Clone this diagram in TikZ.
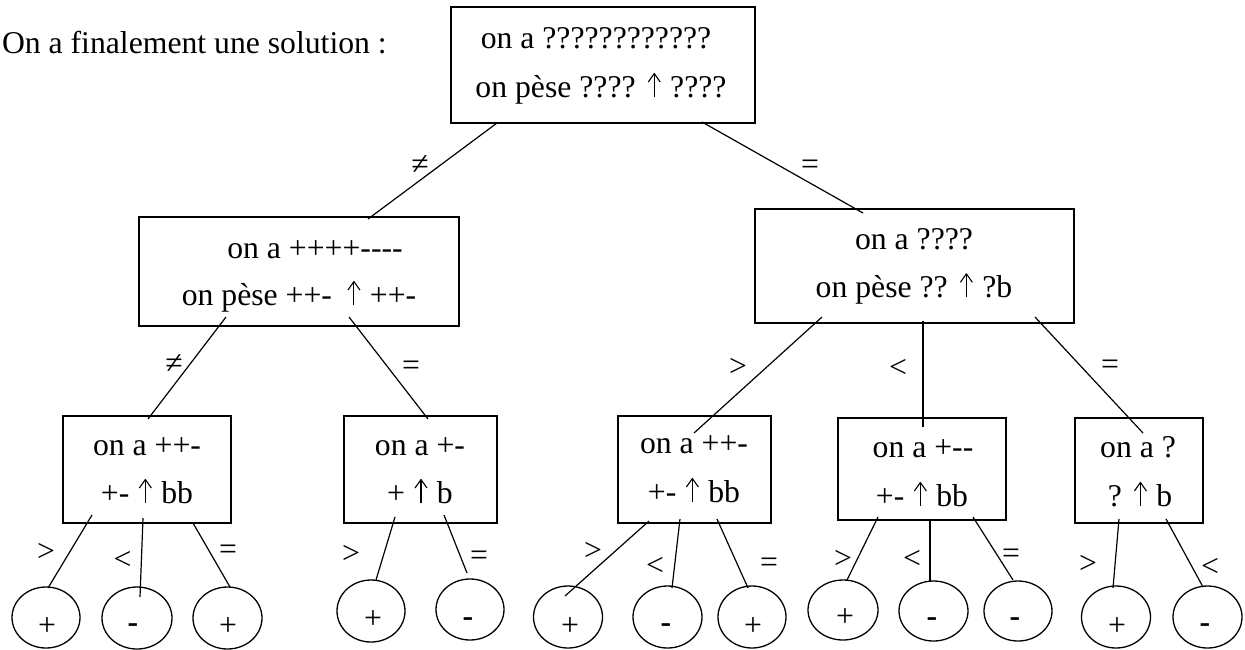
\documentclass[tikz,border=0pt]{standalone}
\usepackage{fontspec}
\setmainfont{Liberation Serif}
\usetikzlibrary{shapes.geometric}
\newcommand\uparr{\hspace{1.5pt}\tikz[baseline=0pt,x=1pt,y=1pt,line width=1.1pt,line join=round]{\draw (0,0)--(0,23.5); \draw (-6,15)--(0,23.5)--(6,15);}\hspace{1.5pt}}
\newcommand\hy{{-}}
\begin{document}
\begin{tikzpicture}[x=1pt,y=-1pt,
  every node/.style={font=\fontsize{31.7}{38}\selectfont, inner sep=0pt, outer sep=0pt},
  box/.style={draw, rectangle, line width=1.4pt},
  leaf/.style={draw, ellipse, line width=1.3pt},
  txt/.style={anchor=base},
  rel/.style={},
  sign/.style={},
  edge/.style={line width=1.2pt}
]
\useasboundingbox (0,0) rectangle (1245,649);

% title
\node[anchor=base west] (title) at (2,53) {On a finalement une solution :};

% boxes
\node[box, minimum width=304, minimum height=116] (T) at (603,65) {};
\node[txt] (T1) at (596,48) {on a ????????????};
\node[txt] (T2) at (601,97) {on pèse ???? \uparr{} ????};

\node[box, minimum width=320, minimum height=109] (L) at (299,271.5) {};
\node[txt] (L1) at (315,258) {on a ++++\hy\hy\hy\hy};
\node[txt] (L2) at (299,305) {on pèse ++\hy\hspace{6pt} \uparr{} ++\hy};

\node[box, minimum width=319, minimum height=114] (R) at (914.5,266) {};
\node[txt] (R1) at (914,249.3) {on a ????};
\node[txt] (R2) at (914,297.3) {on pèse ?? \uparr{} ?b};

\node[box, minimum width=168, minimum height=107] (B1) at (147,469.5) {};
\node[txt] (B11) at (147,455) {on a ++\hy};
\node[txt] (B12) at (147,503) {+\hy{} \uparr{} bb};

\node[box, minimum width=153, minimum height=107] (B2) at (420.5,469.5) {};
\node[txt] (B21) at (420,455) {on a +\hy};
\node[txt] (B22) at (420,503) {+ \uparr{} b};

\node[box, minimum width=153, minimum height=107] (B3) at (694.5,469.5) {};
\node[txt] (B31) at (694,453) {on a ++\hy};
\node[txt] (B32) at (694,502) {+\hy{} \uparr{} bb};

\node[box, minimum width=168, minimum height=102] (B4) at (922,469) {};
\node[txt] (B41) at (923,457) {on a +\hy\hy};
\node[txt] (B42) at (922,506) {+\hy{} \uparr{} bb};

\node[box, minimum width=128, minimum height=105] (B5) at (1139,470.5) {};
\node[txt] (B51) at (1138,457) {on a ?};
\node[txt] (B52) at (1140,506) {? \uparr{} b};

% leaves
\node[leaf, minimum width=68, minimum height=61] (c11) at (46,617.5) {};
\node[leaf, minimum width=70, minimum height=62] (c12) at (137,618) {};
\node[leaf, minimum width=69, minimum height=62] (c13) at (227.5,618) {};
\node[leaf, minimum width=68, minimum height=62] (c21) at (371,611) {};
\node[leaf, minimum width=68, minimum height=61] (c22) at (470,609.5) {};
\node[leaf, minimum width=69, minimum height=62] (c31) at (568,617) {};
\node[leaf, minimum width=69, minimum height=62] (c32) at (667.5,617) {};
\node[leaf, minimum width=68, minimum height=62] (c33) at (752,617) {};
\node[leaf, minimum width=70, minimum height=60] (c41) at (843,610) {};
\node[leaf, minimum width=69, minimum height=60] (c42) at (933.5,611) {};
\node[leaf, minimum width=68, minimum height=60] (c43) at (1018,611) {};
\node[leaf, minimum width=69, minimum height=62] (c51) at (1116,617) {};
\node[leaf, minimum width=69, minimum height=62] (c52) at (1207.5,617) {};

\node[sign] (s11) at (47,627) {+};
\node[sign] (s12) at (133,628) {\textbf{-}};
\node[sign] (s13) at (228,627) {+};
\node[sign] (s21) at (373,620) {+};
\node[sign] (s22) at (468,622) {\textbf{-}};
\node[sign] (s31) at (570,627) {+};
\node[sign] (s32) at (666,628) {\textbf{-}};
\node[sign] (s33) at (753,627) {+};
\node[sign] (s41) at (845,618) {+};
\node[sign] (s42) at (932,622) {\textbf{-}};
\node[sign] (s43) at (1015,622) {\textbf{-}};
\node[sign] (s51) at (1117,627) {+};
\node[sign] (s52) at (1205,628) {\textbf{-}};

% connectors
\draw[edge] ([shift={(-106,58)}]T.center) -- ([shift={(69,-52.5)}]L.center);
\draw[edge] ([shift={(99,57)}]T.center) -- ([shift={(-51.5,-53)}]R.center);
\draw[edge] ([shift={(-73,45.5)}]L.center) -- ([shift={(1,-50.5)}]B1.center);
\draw[edge] ([shift={(50,45.5)}]L.center) -- ([shift={(7.5,-50.5)}]B2.center);
\draw[edge] ([shift={(-92.5,51)}]R.center) -- ([shift={(-0.5,-36.5)}]B3.center);
\draw[edge] ([shift={(8.5,55)}]R.center) -- ([shift={(1,-42)}]B4.center);
\draw[edge] ([shift={(120.5,51)}]R.center) -- ([shift={(4,-37.5)}]B5.center);

\draw[edge] ([shift={(-55,45.5)}]B1.center) -- ([shift={(2,-29.5)}]c11.center);
\draw[edge] ([shift={(-4,48.5)}]B1.center) -- ([shift={(3,-21)}]c12.center);
\draw[edge] ([shift={(46,53.5)}]B1.center) -- ([shift={(2.5,-31)}]c13.center);
\draw[edge] ([shift={(-25.5,47.5)}]B2.center) -- ([shift={(5,-31)}]c21.center);
\draw[edge] ([shift={(23.5,45.5)}]B2.center) -- ([shift={(-3,-36.5)}]c22.center);
\draw[edge] ([shift={(-45.5,51.5)}]B3.center) -- ([shift={(-3,-21)}]c31.center);
\draw[edge] ([shift={(-14.5,49.5)}]B3.center) -- ([shift={(4.5,-29)}]c32.center);
\draw[edge] ([shift={(22.5,49.5)}]B3.center) -- ([shift={(-4,-29)}]c33.center);
\draw[edge] ([shift={(-44,48)}]B4.center) -- ([shift={(4,-30)}]c41.center);
\draw[edge] ([shift={(8,51)}]B4.center) -- ([shift={(-3.5,-29)}]c42.center);
\draw[edge] ([shift={(51,48)}]B4.center) -- ([shift={(-5,-31)}]c43.center);
\draw[edge] ([shift={(-20,48.5)}]B5.center) -- ([shift={(-3,-29)}]c51.center);
\draw[edge] ([shift={(27,48.5)}]B5.center) -- ([shift={(-4.5,-30)}]c52.center);

% labels
\node[rel] (r1) at (420,165) {≠};
\node[rel] (r2) at (810,167) {=};
\node[rel] (r3) at (174,364) {≠};
\node[rel] (r4) at (411,368) {=};
\node[rel] (r5) at (738,367) {>};
\node[rel] (r6) at (898,368) {<};
\node[rel] (r7) at (1110,367) {=};
\node[rel] (r8) at (46,552) {>};
\node[rel] (r9) at (122.5,560) {<};
\node[rel] (r10) at (228,552) {=};
\node[rel] (r11) at (351,554) {>};
\node[rel] (r12) at (479,558) {=};
\node[rel] (r13) at (593,551) {>};
\node[rel] (r14) at (655,566) {<};
\node[rel] (r15) at (769,565) {=};
\node[rel] (r16) at (843,559) {>};
\node[rel] (r17) at (912,559) {<};
\node[rel] (r18) at (1011,556) {=};
\node[rel] (r19) at (1088,564) {>};
\node[rel] (r20) at (1210,567) {<};
\end{tikzpicture}
\end{document}
